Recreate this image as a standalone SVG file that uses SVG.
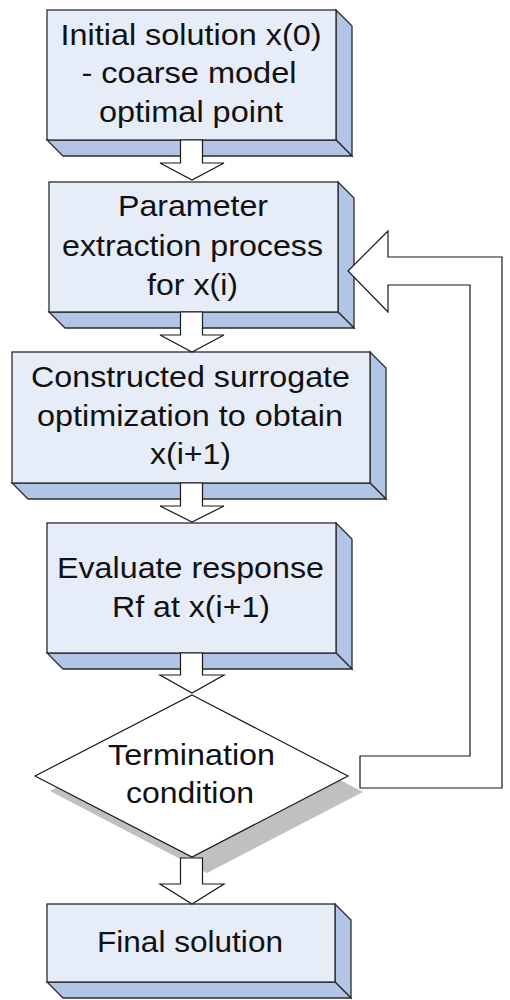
<svg xmlns="http://www.w3.org/2000/svg" width="510" height="1000" viewBox="0 0 510 1000">
<style>
.front{fill:#e6edf8;stroke:#2b2b2b;stroke-width:1.3}
.side{fill:#b2c5e6;stroke:#2b2b2b;stroke-width:1.3;stroke-linejoin:miter}
.arr{fill:#ffffff;stroke:#1a1a1a;stroke-width:1.2}
.t{font-family:"Liberation Sans",Arial,sans-serif;font-size:30px;fill:#111;text-anchor:middle}
</style>
<rect width="510" height="1000" fill="#ffffff"/>
<g id="node1">
<polygon class="side" points="336,10 352,26 352,156 336,140"/>
<polygon class="side" points="47,140 336,140 352,156 63,156"/>
<rect class="front" x="47" y="10" width="289" height="130"/>
<text class="t" x="191" y="45" textLength="261" lengthAdjust="spacingAndGlyphs">Initial solution x(0)</text>
<text class="t" x="189" y="83" textLength="215" lengthAdjust="spacingAndGlyphs">- coarse model</text>
<text class="t" x="191" y="122" textLength="184" lengthAdjust="spacingAndGlyphs">optimal point</text>
</g>
<g id="node2">
<polygon class="side" points="338,182 354,198 354,328 338,312"/>
<polygon class="side" points="49,312 338,312 354,328 65,328"/>
<rect class="front" x="49" y="182" width="289" height="130"/>
<text class="t" x="193" y="216" textLength="150" lengthAdjust="spacingAndGlyphs">Parameter</text>
<text class="t" x="192.5" y="256" textLength="261" lengthAdjust="spacingAndGlyphs">extraction process</text>
<text class="t" x="192.5" y="295" textLength="91" lengthAdjust="spacingAndGlyphs">for x(i)</text>
</g>
<g id="node3">
<polygon class="side" points="370,352 386,368 386,499 370,483"/>
<polygon class="side" points="12,483 370,483 386,499 28,499"/>
<rect class="front" x="12" y="352" width="358" height="131"/>
<text class="t" x="190.5" y="387" textLength="319" lengthAdjust="spacingAndGlyphs">Constructed surrogate</text>
<text class="t" x="190" y="426" textLength="306" lengthAdjust="spacingAndGlyphs">optimization to obtain</text>
<text class="t" x="190.5" y="464" textLength="81" lengthAdjust="spacingAndGlyphs">x(i+1)</text>
</g>
<g id="node4">
<polygon class="side" points="336,523 352,539 352,669 336,653"/>
<polygon class="side" points="47,653 336,653 352,669 63,669"/>
<rect class="front" x="47" y="523" width="289" height="130"/>
<text class="t" x="190.5" y="578" textLength="267" lengthAdjust="spacingAndGlyphs">Evaluate response</text>
<text class="t" x="191" y="617" textLength="158" lengthAdjust="spacingAndGlyphs">Rf at x(i+1)</text>
</g>
<g id="node5">
<polygon points="50,791 207,711 363,792 207,873" fill="#c0c0c0"/>
<polygon points="192,695 348,776 192,857 35,776" fill="#ffffff" stroke="#1a1a1a" stroke-width="1.2"/>
<text class="t" x="191.5" y="765" textLength="167" lengthAdjust="spacingAndGlyphs">Termination</text>
<text class="t" x="190" y="803" textLength="128" lengthAdjust="spacingAndGlyphs">condition</text>
</g>
<g id="node6">
<polygon class="side" points="335,904 351,920 351,998 335,982"/>
<polygon class="side" points="47,982 335,982 351,998 63,998"/>
<rect class="front" x="47" y="904" width="288" height="78"/>
<text class="t" x="190" y="952" textLength="186" lengthAdjust="spacingAndGlyphs">Final solution</text>
</g>
<g id="connectors">
<polygon class="arr" points="180.5,140 202.5,140 202.5,163 224,163 192,180 160,163 180.5,163"/>
<polygon class="arr" points="180.5,312 202.5,312 202.5,335 224,335 192,352 160,335 180.5,335"/>
<polygon class="arr" points="180.5,483 202.5,483 202.5,506 224,506 192,522 160,506 180.5,506"/>
<polygon class="arr" points="180.5,653 202.5,653 202.5,675 224,675 192,693 160,675 180.5,675"/>
<polygon class="arr" points="180.5,858 202.5,858 202.5,884 224,884 192,904 160,884 180.5,884"/>
<polygon class="arr" points="360,756 470,756 470,285 388,285 388,312 348,271 388,231 388,257 502,257 502,788 360,788"/>
</g>
</svg>
